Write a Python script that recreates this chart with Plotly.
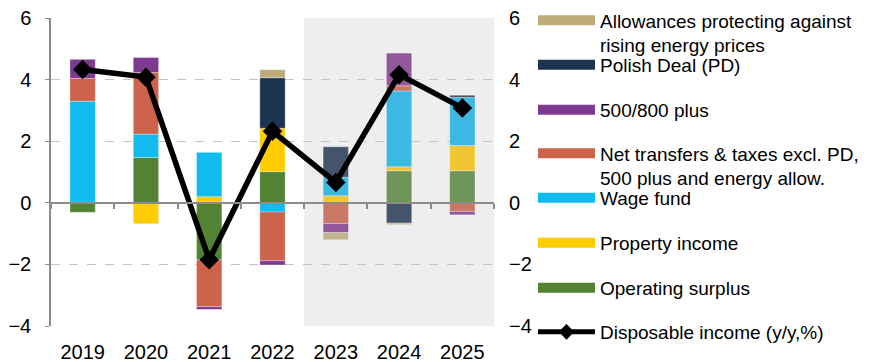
import plotly.graph_objects as go

years = ['2019', '2020', '2021', '2022', '2023', '2024', '2025']

operating_surplus = [-0.31, 1.47, -1.85, 1.01, 0.00, 1.04, 1.04]
property_income = [0.02, -0.68, 0.20, 1.41, 0.23, 0.13, 0.82]
wage_fund = [3.28, 0.76, 1.45, -0.30, 0.60, 2.46, 1.56]
net_transfers = [0.74, 2.00, -1.52, -1.58, -0.67, 0.17, -0.28]
plus_500_800 = [0.63, 0.50, -0.09, -0.14, -0.30, 1.06, -0.11]
polish_deal = [0.00, 0.00, 0.00, 1.64, 0.99, -0.66, 0.08]
energy_allowances = [0.00, 0.00, 0.00, 0.26, -0.23, -0.05, 0.00]
disposable_income = [4.33, 4.08, -1.85, 2.32, 0.66, 4.16, 3.08]

y_ticks = [-4, -2, 0, 2, 4, 6]

# (name, values, solid colour, forecast colour)
series = [
    ('Operating surplus', operating_surplus, '#548235', '#6f955a'),
    ('Property income', property_income, '#ffcc00', '#eec733'),
    ('Wage fund', wage_fund, '#12bbef', '#3cb9e3'),
    ('Net transfers & taxes excl. PD,<br>500 plus and energy allow.', net_transfers, '#cc634a', '#c97866'),
    ('500/800 plus', plus_500_800, '#7e3a8e', '#93579b'),
    ('Polish Deal (PD)', polish_deal, '#1c3352', '#44546a'),
    ('Allowances protecting against<br>rising energy prices', energy_allowances, '#bfab78', '#c0b48c'),
]

forecast_from = 4
fig = go.Figure()

for name, vals, c_solid, c_fc in series:
    colors = [c_solid if i < forecast_from else c_fc for i in range(len(years))]
    fig.add_trace(go.Bar(
        x=years, y=vals, name=name, marker=dict(color=colors, line=dict(color='rgba(255,255,255,0.5)', width=0.6)),
        width=0.4, showlegend=False, xaxis='x', yaxis='y'))

fig.add_trace(go.Scatter(
    x=years, y=disposable_income, mode='lines+markers', name='Disposable income (y/y,%)',
    line=dict(color='black', width=5.5), marker=dict(symbol='diamond', size=15, color='black'),
    showlegend=False, xaxis='x2', yaxis='y2'))

# legend entries (top to bottom), each in its own legend box: (name, colour, swatch centre px, two lines)
legend_items = [
    ('Allowances protecting against<br>rising energy prices', '#bfab78', 21, True),
    ('Polish Deal (PD)', '#1c3352', 65, False),
    ('500/800 plus', '#7e3a8e', 110, False),
    ('Net transfers & taxes excl. PD,<br>500 plus and energy allow.', '#cc634a', 154, True),
    ('Wage fund', '#12bbef', 198, False),
    ('Property income', '#ffcc00', 243, False),
    ('Operating surplus', '#548235', 288, False),
]

W, H = 891, 362
def cy(pix):
    return 1 - pix / H

leg_x = 533 / W
legfont = dict(size=19, color='black', family='Liberation Sans, Arial')
layout_legends = {}
for k, (name, col, ypix, two) in enumerate(legend_items):
    key = 'legend' if k == 0 else f'legend{k+1}'
    fig.add_trace(go.Scatter(x=[None], y=[None], mode='lines', name=name,
                             line=dict(color=col, width=10), legend=key, showlegend=True))
    yc = ypix + (12 if two else 0)
    layout_legends[key] = dict(x=leg_x, xref='container', xanchor='left', y=cy(yc), yref='container',
                               yanchor='middle', bgcolor='rgba(0,0,0,0)', itemwidth=57, valign='top',
                               tracegroupgap=0, font=legfont)

key = 'legend8'
fig.add_trace(go.Scatter(x=[None], y=[None], mode='lines+markers', name='Disposable income (y/y,%)',
                         line=dict(color='black', width=5), marker=dict(symbol='diamond', size=12, color='black'),
                         legend=key, showlegend=True))
layout_legends[key] = dict(x=leg_x, xref='container', xanchor='left', y=cy(332), yref='container',
                           yanchor='middle', bgcolor='rgba(0,0,0,0)', itemwidth=57, valign='top',
                           font=legfont)

fig.add_shape(type='rect', xref='x', yref='paper', x0=3.5, x1=6.5, y0=0, y1=1,
              fillcolor='#eeeeee', line=dict(width=0), layer='below')

font = dict(family='Liberation Sans, Arial', size=20, color='black')

fig.update_layout(
    width=W, height=H,
    margin=dict(l=51, r=397, t=18, b=36, autoexpand=False),
    paper_bgcolor='white', plot_bgcolor='white',
    barmode='relative', bargap=0.6,
    font=font,
    xaxis=dict(type='category', categoryorder='array', categoryarray=years, range=[-0.5, 6.5],
               showline=False, ticks='', showgrid=False, tickfont=font, ticklabelstandoff=12),
    xaxis2=dict(type='category', categoryorder='array', categoryarray=years, range=[-0.5, 6.5],
                overlaying='x', anchor='free', position=0.4, matches='x',
                showline=True, linecolor='#8c8c8c', linewidth=2,
                ticks='outside', tickson='boundaries', ticklen=5, tickcolor='#8c8c8c', tickwidth=2,
                showticklabels=False, showgrid=False),
    yaxis=dict(range=[-4, 6], tickvals=y_ticks, showline=True, linecolor='#8c8c8c', linewidth=1.5,
               ticks='outside', ticklen=4, tickcolor='#8c8c8c', showgrid=True, gridcolor='#c4c4c4',
               griddash='dash', gridwidth=1, zeroline=False, tickfont=font, ticklabelstandoff=10),
    yaxis2=dict(range=[-4, 6], tickvals=y_ticks, overlaying='y', side='right', anchor='free', position=1,
                showline=False, ticks='', showgrid=False, zeroline=False, tickfont=font,
                ticklabelstandoff=14, matches='y'),
    **layout_legends,
)

fig.write_html('out.html')
